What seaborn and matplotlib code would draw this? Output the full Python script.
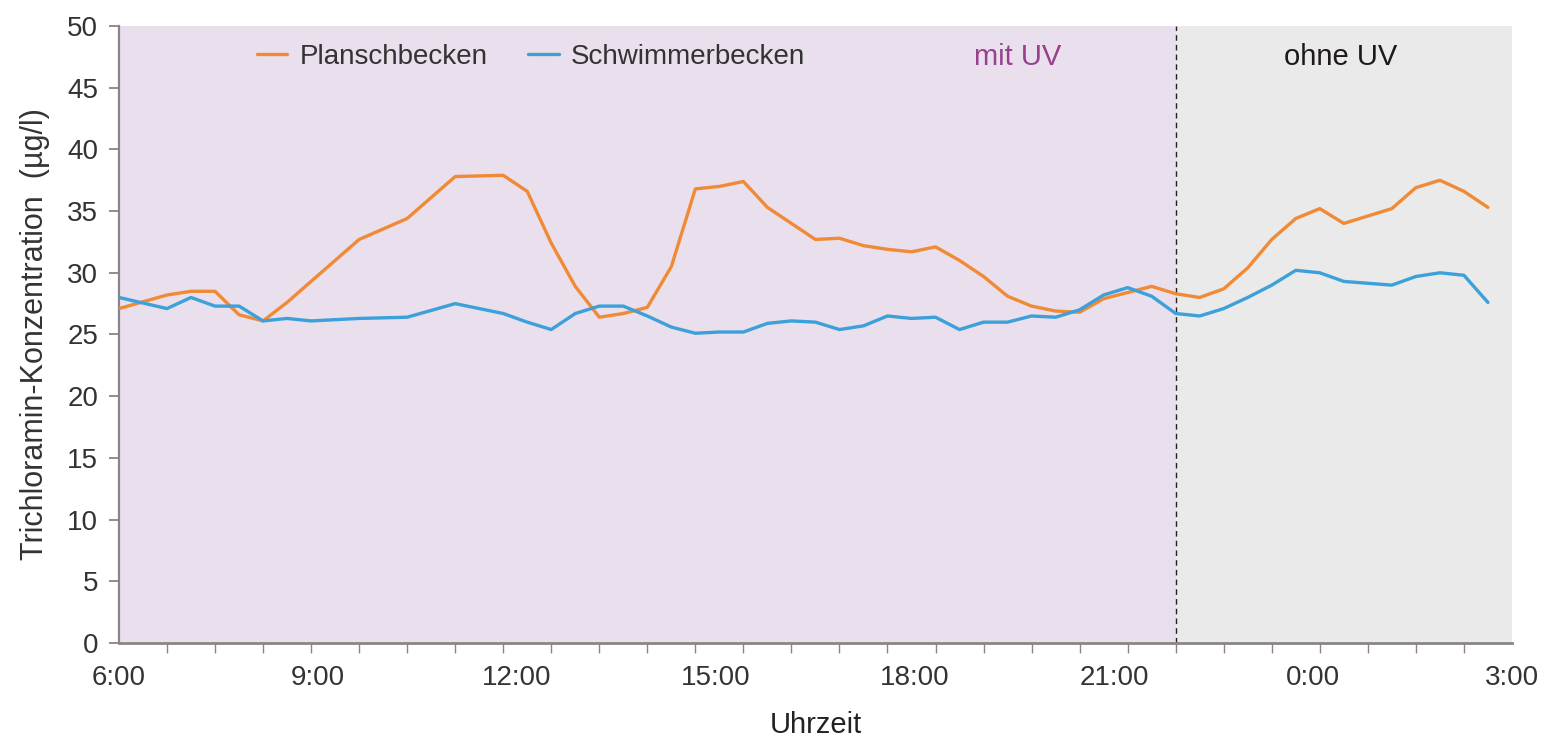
import numpy as np
import pandas as pd
import matplotlib.pyplot as plt
import seaborn as sns

# Messungen: Probennummer (alle 21 h / 58 ab 6:00) und Trichloramin in µg/l
probe_plansch = [0, 2, 3, 4, 5, 6, 7, 8, 10, 12, 14, 16, 17, 18, 19, 20, 21, 22, 23, 24,
                 25, 26, 27, 28, 29, 30, 31, 32, 33, 34, 35, 36, 37, 38, 39, 40, 41, 42, 43, 44,
                 45, 46, 47, 48, 49, 50, 51, 53, 54, 55, 56, 57]
plansch = [27.1, 28.2, 28.5, 28.5, 26.6, 26.1, 27.6, 29.3, 32.7, 34.4, 37.8, 37.9, 36.6, 32.4,
           28.9, 26.4, 26.7, 27.2, 30.5, 36.8, 37.0, 37.4, 35.3, 34.0, 32.7, 32.8, 32.2, 31.9,
           31.7, 32.1, 31.0, 29.7, 28.1, 27.3, 26.9, 26.8, 27.9, 28.4, 28.9, 28.3, 28.0, 28.7,
           30.4, 32.7, 34.4, 35.2, 34.0, 35.2, 36.9, 37.5, 36.6, 35.3]

probe_schwimmer = [0, 2, 3, 4, 5, 6, 7, 8, 10, 12, 14, 16, 17, 18, 19, 20, 21, 22, 23, 24,
                   25, 26, 27, 28, 29, 30, 31, 32, 33, 34, 35, 36, 37, 38, 39, 40, 41, 42, 43, 44,
                   45, 46, 47, 48, 49, 50, 51, 53, 54, 55, 56, 57]
schwimmer = [28.0, 27.1, 28.0, 27.3, 27.3, 26.1, 26.3, 26.1, 26.3, 26.4, 27.5, 26.7, 26.0, 25.4,
             26.7, 27.3, 27.3, 26.5, 25.6, 25.1, 25.2, 25.2, 25.9, 26.1, 26.0, 25.4, 25.7, 26.5,
             26.3, 26.4, 25.4, 26.0, 26.0, 26.5, 26.4, 27.0, 28.2, 28.8, 28.1, 26.7, 26.5, 27.1,
             28.0, 29.0, 30.2, 30.0, 29.3, 29.0, 29.7, 30.0, 29.8, 27.6]

uv_aus = 44  # ab dieser Probe ohne UV
tick_labels = ['6:00', '9:00', '12:00', '15:00', '18:00', '21:00', '0:00', '3:00']

step = 21 / 58  # Stunden pro Probe

df = pd.concat([
    pd.DataFrame({'Stunden': np.array(probe_plansch) * step, 'Wert': plansch, 'Becken': 'Planschbecken'}),
    pd.DataFrame({'Stunden': np.array(probe_schwimmer) * step, 'Wert': schwimmer, 'Becken': 'Schwimmerbecken'}),
])

sns.set_style('white')
plt.rcParams['font.family'] = ['Liberation Sans', 'DejaVu Sans']
text_col = '#333333'
axis_col = '#8a8584'

fig = plt.figure(figsize=(15.55, 7.41), dpi=100)
ax = fig.add_axes([0.0765, 0.1323, 0.8958, 0.8326])

grenze = uv_aus * step
ax.axvspan(0, grenze, color='#eadfec', lw=0, zorder=0)
ax.axvspan(grenze, 21, color='#eaeaea', lw=0, zorder=0)
ax.axvline(grenze, color='#222222', lw=1, ls=(0, (4, 3)), zorder=1)

sns.lineplot(data=df, x='Stunden', y='Wert', hue='Becken', ax=ax,
             palette={'Planschbecken': '#f08a36', 'Schwimmerbecken': '#3ca0da'},
             linewidth=2.4, sort=True, zorder=3)

ax.set_xlim(0, 21)
ax.set_ylim(0, 50)
ax.set_yticks(range(0, 51, 5))
ax.set_xticks(np.arange(0, 22, 3))
ax.set_xticklabels(tick_labels)
ax.set_xticks(np.arange(0, 30) * 21 / 29, minor=True)

for s in ['top', 'right']:
    ax.spines[s].set_visible(False)
ax.spines['left'].set_color(axis_col)
ax.spines['left'].set_linewidth(1.6)
ax.spines['bottom'].set_color(axis_col)
ax.spines['bottom'].set_linewidth(2.0)

ax.tick_params(axis='y', which='major', direction='out', length=7, width=1.3, color=axis_col,
               labelsize=20, labelcolor=text_col, pad=8, left=True)
ax.tick_params(axis='x', which='major', length=0, labelsize=20, labelcolor=text_col, pad=16)
ax.tick_params(axis='x', which='minor', direction='out', length=7, width=1.0, color=axis_col, bottom=True)

ax.set_xlabel('Uhrzeit', fontsize=21, color='#222222', labelpad=14)
ax.set_ylabel('Trichloramin-Konzentration  (µg/l)', fontsize=22, color=text_col, labelpad=12)

handles, labels = ax.get_legend_handles_labels()
ax.legend(handles, labels, loc='center left', bbox_to_anchor=(0.081, 0.95), ncol=2,
          frameon=False, fontsize=20, handlelength=1.1, handletextpad=0.45,
          columnspacing=1.45, labelcolor=text_col)

ax.text(0.645, 0.95, 'mit UV', transform=ax.transAxes, ha='center', va='center',
        fontsize=21, color='#983f8e')
ax.text(0.877, 0.95, 'ohne UV', transform=ax.transAxes, ha='center', va='center',
        fontsize=21, color='#1e1a1a')

fig.savefig('out.png', dpi=100)
